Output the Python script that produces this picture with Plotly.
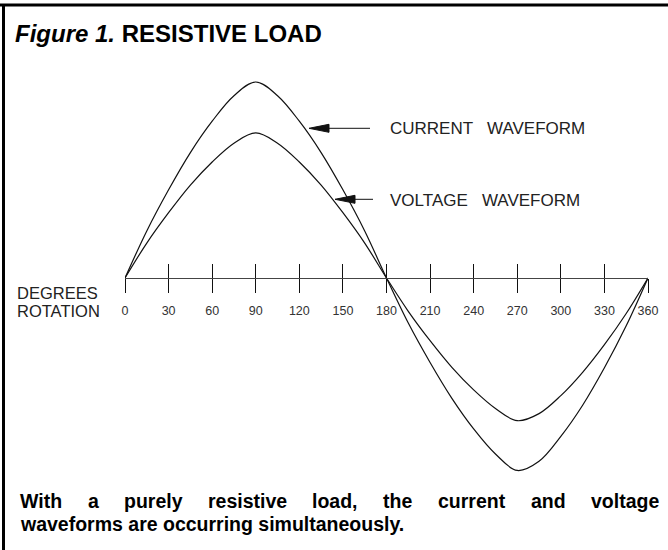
import plotly.graph_objects as go

# ---------------- data ----------------
degrees = [0, 15, 30, 45, 60, 75, 90, 105, 120, 135, 150, 165, 180,
           195, 210, 225, 240, 255, 270, 285, 300, 315, 330, 345, 360]
current = [0, 2.4, 4.5, 6.4, 8.0, 9.3, 10.0, 9.3, 8.0, 6.4, 4.5, 2.4, 0,
           -2.3, -4.31, -6.14, -7.7, -8.98, -9.82, -9.35, -8.08, -6.49, -4.58, -2.44, 0]
voltage = [0, 1.78, 3.33, 4.74, 5.92, 6.88, 7.4, 6.88, 5.92, 4.74, 3.33, 1.78, 0,
           -1.7, -3.2, -4.56, -5.71, -6.66, -7.28, -6.92, -6.0, -4.81, -3.4, -1.81, 0]
tick_vals = [0, 30, 60, 90, 120, 150, 180, 210, 240, 270, 300, 330, 360]
tick_text = [str(v) for v in tick_vals]

title_html = "<b><i>Figure 1.</i> RESISTIVE LOAD</b>"
caption_line1 = ["With", "a", "purely", "resistive", "load,", "the", "current", "and", "voltage"]
caption_line2 = "waveforms are occurring simultaneously."
axis_label = ["DEGREES", "ROTATION"]
current_label = "CURRENT   WAVEFORM"
voltage_label = "VOLTAGE   WAVEFORM"

# ---------------- geometry ----------------
W, H = 668, 550
L, R = 125, 20            # plot area spans x pixels 125..648
PX_PER_UNIT = 19.6
AXIS_PY = 278
FONT = "Arial, 'Liberation Sans', Helvetica, sans-serif"


def px_x(px):
    return (px - L) / (W - L - R)


def px_y(py):
    return (H - py) / H


def deg_at(px):
    return (px - L) / (W - L - R) * 360


def val_at(py):
    return (AXIS_PY - py) / PX_PER_UNIT


fig = go.Figure()
for series in (current, voltage):
    fig.add_trace(go.Scatter(
        x=degrees, y=series, mode="lines", line=dict(color="#111", width=1.2, shape="spline"),
        cliponaxis=False, hoverinfo="skip", showlegend=False))
# invisible trace to carry the upper tick half
fig.add_trace(go.Scatter(x=tick_vals, y=[0] * len(tick_vals), xaxis="x2", mode="none",
                         hoverinfo="skip", showlegend=False))

pos = px_y(AXIS_PY)
fig.update_layout(
    width=W, height=H, autosize=False,
    margin=dict(l=L, r=R, t=0, b=0, pad=0),
    paper_bgcolor="white", plot_bgcolor="white",
    font=dict(family=FONT, color="#222"),
    hovermode=False,
    xaxis=dict(range=[0, 360], tickvals=tick_vals, ticktext=tick_text,
               ticks="outside", ticklen=14, tickwidth=1.2, tickcolor="#111",
               showline=True, linecolor="#444", linewidth=1,
               showgrid=False, zeroline=False, anchor="free", position=pos,
               tickfont=dict(size=12.5, color="#333", family=FONT), ticklabelstandoff=7),
    xaxis2=dict(range=[0, 360], tickvals=tick_vals, overlaying="x", side="bottom",
                ticks="inside", ticklen=14, tickwidth=1.2, tickcolor="#111",
                showticklabels=False, showline=False, showgrid=False, zeroline=False,
                anchor="free", position=pos),
    yaxis=dict(range=[-(H - AXIS_PY) / PX_PER_UNIT, AXIS_PY / PX_PER_UNIT], visible=False),
)

shapes = [
    dict(type="line", xref="paper", yref="paper", x0=px_x(0), x1=px_x(W + 5),
         y0=px_y(5), y1=px_y(5), line=dict(color="black", width=3)),
    dict(type="line", xref="paper", yref="paper", x0=px_x(3.5), x1=px_x(3.5),
         y0=px_y(4), y1=px_y(H + 5), line=dict(color="black", width=3)),
]
# arrows (tip anchored in data space, drawn in pixels)
for tip_px, tip_py, length in [(309, 128.3, 61), (335, 199.3, 38)]:
    shapes.append(dict(
        type="path", xref="x", yref="y", xsizemode="pixel", ysizemode="pixel",
        xanchor=deg_at(tip_px), yanchor=val_at(tip_py),
        path=f"M0,0 L20,4 L20,-4 Z M20,0 L{length},0",
        fillcolor="#111", line=dict(color="#111", width=1)))
fig.update_layout(shapes=shapes)

ann = []
ann.append(dict(text=title_html, xref="paper", yref="paper", x=px_x(13), y=px_y(33),
                xanchor="left", yanchor="middle", showarrow=False,
                font=dict(size=24, color="black", family=FONT)))
for txt, py in zip(axis_label, [293.3, 311]):
    ann.append(dict(text=txt, xref="paper", yref="paper", x=px_x(15), y=px_y(py),
                    xanchor="left", yanchor="middle", showarrow=False,
                    font=dict(size=16.5, color="#222", family=FONT)))
for txt, py in [(current_label, 129), (voltage_label, 200)]:
    ann.append(dict(text=txt, xref="paper", yref="paper", x=px_x(388), y=px_y(py),
                    xanchor="left", yanchor="middle", showarrow=False,
                    font=dict(size=17, color="#222", family=FONT)))

# justified caption line 1 (Arial Bold advance widths, 1/1000 em)
AW = {'W': 944, 'i': 278, 't': 333, 'h': 611, 'a': 556, 'p': 611, 'u': 611, 'r': 389,
      'e': 556, 'l': 278, 'y': 556, 's': 556, 'v': 556, 'o': 611, 'd': 611, ',': 278,
      'c': 556, 'n': 611, 'g': 611}
CAP_SIZE = 19.5
left_px, right_px = 18, 657
widths = [sum(AW[c] for c in w) * CAP_SIZE / 1000 for w in caption_line1]
gap = (right_px - left_px - sum(widths)) / (len(caption_line1) - 1)
x = left_px
for w, wd in zip(caption_line1, widths):
    ann.append(dict(text=f"<b>{w}</b>", xref="paper", yref="paper", x=px_x(x), y=px_y(501.2),
                    xanchor="left", yanchor="middle", showarrow=False,
                    font=dict(size=CAP_SIZE, color="black", family=FONT)))
    x += wd + gap
ann.append(dict(text=f"<b>{caption_line2}</b>", xref="paper", yref="paper", x=px_x(left_px),
                y=px_y(524.2), xanchor="left", yanchor="middle", showarrow=False,
                font=dict(size=CAP_SIZE, color="black", family=FONT)))
fig.update_layout(annotations=ann)

# the page body has a default 8px margin; remove it so the figure sits at (0, 0)
fig.write_html("out.html", config={"displayModeBar": False},
               post_script="document.body.style.margin='0';")
